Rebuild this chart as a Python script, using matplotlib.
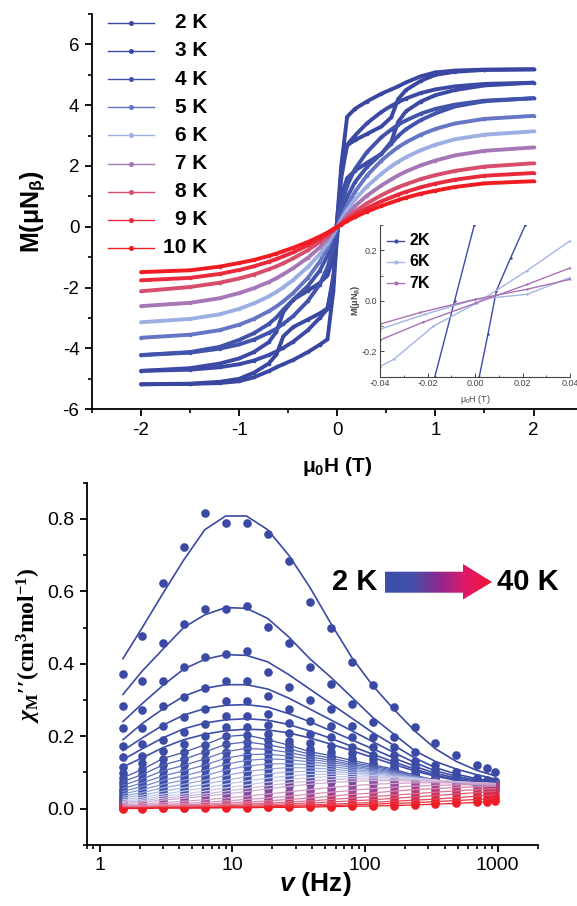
import numpy as np
import matplotlib
matplotlib.use('Agg')
import matplotlib.pyplot as plt
from matplotlib.colors import LinearSegmentedColormap
from matplotlib.patches import Polygon
from matplotlib.ticker import MultipleLocator, FixedLocator, FixedFormatter, LogLocator, NullFormatter

plt.rcParams['font.family'] = ['Liberation Sans', 'DejaVu Sans']
plt.rcParams['axes.unicode_minus'] = False
plt.rcParams['mathtext.fontset'] = 'custom'
plt.rcParams['mathtext.rm'] = 'Liberation Serif:bold'
plt.rcParams['mathtext.it'] = 'Liberation Serif:italic:bold'
plt.rcParams['mathtext.bf'] = 'Liberation Serif:bold'
plt.rcParams['mathtext.sf'] = 'Liberation Sans:italic:bold'

# ---------------- M vs H loops (top panel) ----------------
H_down = [2.0, 1.5, 1.2, 1.0, 0.85, 0.7, 0.62, 0.55, 0.45, 0.3, 0.18, 0.1, 0.04, 0.0,
          -0.04, -0.1, -0.18, -0.3, -0.45, -0.55, -0.62, -0.7, -0.85, -1.0, -1.2, -1.5, -2.0]
H_up = [-2.0, -1.5, -1.2, -1.0, -0.85, -0.7, -0.62, -0.55, -0.45, -0.3, -0.18, -0.1, -0.04, 0.0,
        0.04, 0.1, 0.18, 0.3, 0.45, 0.55, 0.62, 0.7, 0.85, 1.0, 1.2, 1.5, 2.0]

M_2K_down = [5.18, 5.17, 5.14, 5.08, 4.95, 4.75, 4.62, 4.52, 4.38, 4.12, 3.88, 3.62, 2.0, 0.3,
             -1.8, -2.68, -2.85, -3.05, -3.3, -3.6, -4.2, -4.5, -4.8, -5.0, -5.1, -5.16, -5.18]
M_2K_up = [-5.18, -5.17, -5.14, -5.08, -4.95, -4.75, -4.62, -4.52, -4.38, -4.12, -3.88, -3.7, -2.1, -0.15,
           1.8, 2.68, 2.85, 3.05, 3.3, 3.6, 4.2, 4.5, 4.8, 5.0, 5.1, 5.16, 5.18]
M_3K_down = [4.74, 4.7, 4.62, 4.52, 4.4, 4.22, 4.1, 3.98, 3.78, 3.4, 3.0, 2.7, 1.6, 0.3,
             -1.0, -1.6, -1.85, -2.1, -2.4, -2.8, -3.45, -3.8, -4.12, -4.33, -4.5, -4.65, -4.74]
M_3K_up = [-4.74, -4.7, -4.62, -4.52, -4.4, -4.22, -4.1, -3.98, -3.78, -3.4, -3.0, -2.7, -1.6, -0.3,
           1.0, 1.6, 1.85, 2.1, 2.4, 2.8, 3.45, 3.8, 4.12, 4.33, 4.5, 4.65, 4.74]
M_4K_down = [4.23, 4.15, 4.02, 3.88, 3.72, 3.5, 3.36, 3.2, 2.95, 2.45, 1.9, 1.35, 0.7, 0.15,
             -0.4, -0.95, -1.45, -1.95, -2.4, -2.72, -2.98, -3.2, -3.5, -3.72, -3.95, -4.12, -4.22]
M_4K_up = [-4.22, -4.14, -4.01, -3.87, -3.71, -3.49, -3.35, -3.19, -2.94, -2.44, -1.9, -1.33, -0.7, -0.12,
           0.42, 0.97, 1.47, 1.96, 2.41, 2.73, 2.99, 3.21, 3.51, 3.73, 3.96, 4.13, 4.23]
M_5K = [3.65, 3.55, 3.4, 3.22, 3.03, 2.78, 2.62, 2.45, 2.18, 1.68, 1.15, 0.7, 0.3, 0.0,
        -0.3, -0.7, -1.15, -1.68, -2.18, -2.45, -2.62, -2.78, -3.03, -3.22, -3.4, -3.55, -3.65]
M_6K = [3.14, 3.03, 2.88, 2.7, 2.52, 2.29, 2.14, 1.99, 1.75, 1.32, 0.9, 0.55, 0.22, 0.0,
        -0.22, -0.55, -0.9, -1.32, -1.75, -1.99, -2.14, -2.29, -2.52, -2.7, -2.88, -3.03, -3.14]
M_7K = [2.61, 2.5, 2.35, 2.18, 2.02, 1.82, 1.69, 1.56, 1.36, 1.02, 0.68, 0.4, 0.13, 0.0,
        -0.13, -0.4, -0.68, -1.02, -1.36, -1.56, -1.69, -1.82, -2.02, -2.18, -2.35, -2.5, -2.61]
M_8K = [2.09, 1.98, 1.84, 1.7, 1.57, 1.4, 1.3, 1.2, 1.04, 0.77, 0.5, 0.3, 0.11, 0.0,
        -0.11, -0.3, -0.5, -0.77, -1.04, -1.2, -1.3, -1.4, -1.57, -1.7, -1.84, -1.98, -2.12]
M_9K = [1.77, 1.68, 1.55, 1.42, 1.3, 1.15, 1.06, 0.97, 0.84, 0.61, 0.39, 0.23, 0.09, 0.0,
        -0.09, -0.23, -0.39, -0.61, -0.84, -0.97, -1.06, -1.15, -1.3, -1.42, -1.55, -1.68, -1.76]
M_10K = [1.5, 1.43, 1.31, 1.19, 1.09, 0.96, 0.88, 0.8, 0.69, 0.5, 0.32, 0.19, 0.07, 0.0,
         -0.07, -0.19, -0.32, -0.5, -0.69, -0.8, -0.88, -0.96, -1.09, -1.19, -1.31, -1.43, -1.49]

loop_labels = ['2 K', '3 K', '4 K', '5 K', '6 K', '7 K', '8 K', '9 K', '10 K']
loop_colors = ['#3a47a0', '#3c4aa5', '#4253ab', '#6676c4', '#9caee2', '#a677b6',
               '#d84c6c', '#e92a3c', '#f11c22']

# inset: zoom around zero field
ins_2K_a_H = [-0.0169, -0.0086, -0.0003]
ins_2K_a_M = [-0.30, 0.0, 0.30]
ins_2K_b_H = [0.0018, 0.0055, 0.009, 0.015, 0.0212]
ins_2K_b_M = [-0.30, -0.13, 0.04, 0.17, 0.30]
ins_6K_a_H = [-0.04, -0.034, -0.0175, 0.001, 0.0217, 0.04]
ins_6K_a_M = [-0.26, -0.23, -0.10, -0.007, 0.118, 0.237]
ins_6K_b_H = [-0.04, -0.021, 0.0, 0.022, 0.04]
ins_6K_b_M = [-0.112, -0.053, 0.005, 0.026, 0.092]
ins_7K_a_H = [-0.04, -0.022, 0.0, 0.022, 0.04]
ins_7K_a_M = [-0.155, -0.085, -0.01, 0.065, 0.13]
ins_7K_b_H = [-0.04, -0.023, 0.0, 0.022, 0.04]
ins_7K_b_M = [-0.092, -0.046, 0.006, 0.046, 0.085]
ins_labels = ['2K', '6K', '7K']
ins_colors = ['#3d4aa6', '#a3b4e6', '#a873b4']

# ---------------- chi'' vs frequency (bottom panel) ----------------
freq = [1.5, 2.1, 3.0, 4.3, 6.2, 8.9, 12.8, 18.5, 26.6, 38.3, 55.1, 79.2, 114, 164, 236, 339, 487, 700, 830, 960]

chi_2K = [0.371, 0.476, 0.623, 0.722, 0.815, 0.788, 0.788, 0.757, 0.684, 0.571, 0.500, 0.406, 0.341, 0.281, 0.226, 0.181, 0.148, 0.119, 0.111, 0.102]
fit_2K = [0.414, 0.500, 0.594, 0.686, 0.770, 0.808, 0.808, 0.770, 0.700, 0.612, 0.512, 0.418, 0.340, 0.275, 0.215, 0.165, 0.130, 0.105, 0.097, 0.090]
chi_3K = [0.282, 0.351, 0.457, 0.510, 0.551, 0.550, 0.560, 0.501, 0.456, 0.390, 0.345, 0.290, 0.240, 0.197, 0.155, 0.121, 0.100, 0.084, 0.080, 0.077]
fit_3K = [0.315, 0.380, 0.440, 0.500, 0.535, 0.555, 0.553, 0.525, 0.474, 0.414, 0.363, 0.308, 0.252, 0.206, 0.160, 0.130, 0.109, 0.093, 0.087, 0.081]
chi_4K = [0.222, 0.273, 0.351, 0.391, 0.418, 0.426, 0.435, 0.377, 0.337, 0.300, 0.274, 0.228, 0.197, 0.171, 0.132, 0.106, 0.091, 0.077, 0.074, 0.072]
fit_4K = [0.240, 0.290, 0.340, 0.385, 0.412, 0.425, 0.423, 0.405, 0.370, 0.330, 0.290, 0.250, 0.210, 0.175, 0.140, 0.113, 0.095, 0.082, 0.078, 0.075]
chi_5K = [0.174, 0.222, 0.282, 0.308, 0.332, 0.351, 0.351, 0.310, 0.274, 0.241, 0.228, 0.197, 0.171, 0.149, 0.119, 0.095, 0.084, 0.074, 0.071, 0.069]
fit_5K = [0.190, 0.235, 0.275, 0.310, 0.332, 0.342, 0.342, 0.330, 0.305, 0.275, 0.245, 0.215, 0.185, 0.155, 0.127, 0.104, 0.089, 0.078, 0.075, 0.072]
chi_6K = [0.141, 0.178, 0.228, 0.252, 0.275, 0.298, 0.298, 0.262, 0.237, 0.206, 0.197, 0.171, 0.149, 0.132, 0.109, 0.088, 0.078, 0.070, 0.068, 0.066]
fit_6K = [0.160, 0.195, 0.230, 0.258, 0.276, 0.285, 0.287, 0.280, 0.262, 0.240, 0.215, 0.190, 0.165, 0.140, 0.117, 0.097, 0.084, 0.075, 0.072, 0.070]
chi_7K = [0.114, 0.146, 0.190, 0.210, 0.234, 0.256, 0.256, 0.231, 0.208, 0.180, 0.174, 0.152, 0.136, 0.121, 0.100, 0.082, 0.074, 0.067, 0.065, 0.063]
fit_7K = [0.135, 0.165, 0.195, 0.220, 0.236, 0.245, 0.248, 0.244, 0.232, 0.214, 0.194, 0.172, 0.150, 0.129, 0.109, 0.092, 0.080, 0.072, 0.070, 0.068]
chi_8K = [0.098, 0.125, 0.160, 0.178, 0.201, 0.226, 0.226, 0.206, 0.186, 0.165, 0.155, 0.140, 0.126, 0.112, 0.093, 0.078, 0.071, 0.065, 0.063, 0.061]
fit_8K = [0.115, 0.140, 0.168, 0.190, 0.205, 0.215, 0.219, 0.217, 0.209, 0.195, 0.178, 0.160, 0.141, 0.122, 0.104, 0.089, 0.078, 0.071, 0.069, 0.067]
chi_9K = [0.085, 0.108, 0.138, 0.155, 0.176, 0.199, 0.203, 0.190, 0.175, 0.157, 0.146, 0.133, 0.121, 0.109, 0.092, 0.078, 0.071, 0.064, 0.062, 0.060]
chi_10K = [0.074, 0.094, 0.120, 0.136, 0.156, 0.177, 0.184, 0.176, 0.165, 0.150, 0.139, 0.127, 0.117, 0.106, 0.091, 0.078, 0.071, 0.064, 0.062, 0.060]
chi_11K = [0.064, 0.082, 0.104, 0.119, 0.137, 0.157, 0.166, 0.163, 0.155, 0.143, 0.133, 0.122, 0.113, 0.103, 0.090, 0.078, 0.071, 0.065, 0.063, 0.061]
chi_12K = [0.055, 0.071, 0.090, 0.104, 0.120, 0.139, 0.149, 0.150, 0.145, 0.136, 0.128, 0.118, 0.109, 0.100, 0.089, 0.078, 0.071, 0.065, 0.063, 0.062]
chi_13K = [0.047, 0.061, 0.078, 0.090, 0.105, 0.122, 0.133, 0.137, 0.135, 0.129, 0.122, 0.114, 0.106, 0.098, 0.088, 0.078, 0.072, 0.066, 0.064, 0.063]
chi_14K = [0.040, 0.052, 0.067, 0.078, 0.091, 0.106, 0.117, 0.123, 0.124, 0.121, 0.116, 0.109, 0.102, 0.095, 0.086, 0.078, 0.072, 0.067, 0.065, 0.064]
chi_15K = [0.034, 0.044, 0.057, 0.067, 0.078, 0.091, 0.102, 0.109, 0.113, 0.112, 0.109, 0.104, 0.099, 0.093, 0.085, 0.078, 0.073, 0.068, 0.066, 0.065]
chi_16K = [0.029, 0.037, 0.048, 0.057, 0.067, 0.078, 0.088, 0.096, 0.101, 0.103, 0.102, 0.099, 0.095, 0.090, 0.084, 0.078, 0.073, 0.069, 0.067, 0.066]
chi_17K = [0.024, 0.031, 0.040, 0.048, 0.057, 0.067, 0.076, 0.084, 0.090, 0.094, 0.095, 0.094, 0.091, 0.088, 0.083, 0.078, 0.074, 0.070, 0.068, 0.067]
chi_18K = [0.020, 0.026, 0.034, 0.040, 0.048, 0.057, 0.065, 0.073, 0.080, 0.085, 0.088, 0.088, 0.087, 0.085, 0.082, 0.078, 0.074, 0.071, 0.069, 0.068]
chi_19K = [0.017, 0.022, 0.028, 0.034, 0.040, 0.048, 0.055, 0.063, 0.070, 0.076, 0.080, 0.082, 0.082, 0.081, 0.079, 0.077, 0.074, 0.071, 0.070, 0.069]
chi_20K = [0.014, 0.018, 0.023, 0.028, 0.034, 0.040, 0.047, 0.054, 0.061, 0.067, 0.072, 0.075, 0.077, 0.077, 0.076, 0.075, 0.073, 0.071, 0.070, 0.069]
chi_22K = [0.010, 0.013, 0.016, 0.020, 0.024, 0.029, 0.034, 0.040, 0.046, 0.052, 0.058, 0.063, 0.067, 0.069, 0.071, 0.071, 0.071, 0.070, 0.069, 0.068]
chi_24K = [0.007, 0.009, 0.011, 0.014, 0.017, 0.021, 0.025, 0.029, 0.034, 0.040, 0.045, 0.050, 0.055, 0.059, 0.062, 0.064, 0.065, 0.066, 0.066, 0.066]
chi_26K = [0.005, 0.006, 0.008, 0.010, 0.012, 0.015, 0.018, 0.021, 0.025, 0.029, 0.034, 0.039, 0.043, 0.048, 0.052, 0.055, 0.058, 0.060, 0.061, 0.062]
chi_28K = [0.004, 0.005, 0.006, 0.007, 0.009, 0.011, 0.013, 0.015, 0.018, 0.021, 0.025, 0.029, 0.033, 0.037, 0.041, 0.045, 0.049, 0.052, 0.054, 0.055]
chi_30K = [0.003, 0.003, 0.004, 0.005, 0.006, 0.008, 0.009, 0.011, 0.013, 0.015, 0.018, 0.021, 0.024, 0.028, 0.032, 0.036, 0.040, 0.044, 0.046, 0.048]
chi_33K = [0.002, 0.002, 0.003, 0.003, 0.004, 0.005, 0.006, 0.007, 0.009, 0.010, 0.012, 0.014, 0.017, 0.020, 0.023, 0.026, 0.030, 0.034, 0.036, 0.038]
chi_36K = [0.001, 0.001, 0.002, 0.002, 0.003, 0.003, 0.004, 0.005, 0.006, 0.007, 0.008, 0.010, 0.012, 0.014, 0.016, 0.019, 0.022, 0.025, 0.027, 0.029]
chi_40K = [0.000, 0.000, 0.001, 0.001, 0.001, 0.002, 0.002, 0.003, 0.003, 0.004, 0.005, 0.006, 0.007, 0.008, 0.010, 0.012, 0.014, 0.017, 0.019, 0.021]

ac_dots = [chi_2K, chi_3K, chi_4K, chi_5K, chi_6K, chi_7K, chi_8K, chi_9K, chi_10K, chi_11K,
           chi_12K, chi_13K, chi_14K, chi_15K, chi_16K, chi_17K, chi_18K, chi_19K, chi_20K,
           chi_22K, chi_24K, chi_26K, chi_28K, chi_30K, chi_33K, chi_36K, chi_40K]
ac_fits = [fit_2K, fit_3K, fit_4K, fit_5K, fit_6K, fit_7K, fit_8K] + ac_dots[7:]

# ---------------- figure ----------------
W, Hpx = 577, 906
fig = plt.figure(figsize=(W / 100, Hpx / 100), dpi=100)


def box(l, t, r, b):
    return [l / W, 1 - b / Hpx, (r - l) / W, (b - t) / Hpx]


def style(ax):
    for s in ['top', 'right']:
        ax.spines[s].set_visible(False)
    for s in ['left', 'bottom']:
        ax.spines[s].set_linewidth(1.3)
    ax.tick_params(which='major', direction='out', length=5, width=1.3, labelsize=13.5, pad=4)
    ax.tick_params(which='minor', direction='out', length=3, width=1.2)


# top panel
ax1 = fig.add_axes(box(92, 14, 582.6, 409.2))
style(ax1)
ax1.set_xlim(-2.5, 2.5)
ax1.set_ylim(-6, 7)
ax1.xaxis.set_major_locator(FixedLocator([-2, -1, 0, 1, 2]))
ax1.xaxis.set_minor_locator(MultipleLocator(0.5))
ax1.yaxis.set_major_locator(FixedLocator([-6, -4, -2, 0, 2, 4, 6]))
ax1.yaxis.set_minor_locator(MultipleLocator(1))

loops = [(M_2K_down, M_2K_up), (M_3K_down, M_3K_up), (M_4K_down, M_4K_up),
         (M_5K, None), (M_6K, None), (M_7K, None), (M_8K, None), (M_9K, None), (M_10K, None)]
for (down, up), c in zip(loops, loop_colors):
    ax1.plot(H_down, down, color=c, lw=2.8, marker='o', ms=2.6, mew=0,
             solid_joinstyle='round', solid_capstyle='round')
    if up is not None:
        ax1.plot(H_up, up, color=c, lw=2.8, marker='o', ms=2.6, mew=0,
                 solid_joinstyle='round', solid_capstyle='round')

# hand-placed legend (right aligned labels)
for i, (lab, c) in enumerate(zip(loop_labels, loop_colors)):
    y = 0.9777 - i * 0.0712
    ax1.plot([0.0326, 0.1264], [y, y], color=c, lw=1.0, transform=ax1.transAxes, clip_on=False)
    ax1.plot([0.0795], [y], 'o', color=c, ms=2.6, transform=ax1.transAxes, clip_on=False)
    ax1.text(0.2344, y, lab, transform=ax1.transAxes, ha='right', va='center',
             fontsize=15, fontweight='bold')

ax1.set_xlabel('μ$_\\mathregular{0}$H (T)', fontsize=15, fontweight='bold')
ax1.xaxis.label.set_va('center')
ax1.xaxis.set_label_coords(0.5, -0.146)
ax1.set_ylabel('M(μN$_\\mathregular{β}$)', fontsize=18, fontweight='bold')
ax1.yaxis.label.set_va('center')
ax1.yaxis.set_label_coords(-0.12, 0.5)

# inset
axi = fig.add_axes(box(380, 225, 570, 376.7))
for s in ['top', 'right']:
    axi.spines[s].set_visible(False)
for s in ['left', 'bottom']:
    axi.spines[s].set_linewidth(0.8)
    axi.spines[s].set_color('#444444')
axi.set_facecolor('none')
axi.set_xlim(-0.04, 0.04)
axi.set_ylim(-0.3, 0.3)
axi.xaxis.set_major_locator(FixedLocator([-0.04, -0.02, 0.0, 0.02, 0.04]))
axi.xaxis.set_major_formatter(FixedFormatter(['-0.04', '-0.02', '0.00', '0.02', '0.04']))
axi.xaxis.set_minor_locator(MultipleLocator(0.01))
axi.yaxis.set_major_locator(FixedLocator([-0.2, 0.0, 0.2]))
axi.yaxis.set_major_formatter(FixedFormatter(['-0.2', '0.0', '0.2']))
axi.yaxis.set_minor_locator(MultipleLocator(0.1))
axi.tick_params(which='major', direction='in', length=3, width=0.7, labelsize=6.5,
                colors='#444444', pad=2)
axi.tick_params(which='minor', direction='in', length=1.8, width=0.6, colors='#444444')

ins_series = [(ins_2K_a_H, ins_2K_a_M, 0), (ins_2K_b_H, ins_2K_b_M, 0),
              (ins_6K_a_H, ins_6K_a_M, 1), (ins_6K_b_H, ins_6K_b_M, 1),
              (ins_7K_a_H, ins_7K_a_M, 2), (ins_7K_b_H, ins_7K_b_M, 2)]
for hx, my, k in ins_series:
    axi.plot(hx, my, color=ins_colors[k], lw=1.0, marker='o', ms=1.8, mew=0)

for i, (lab, c) in enumerate(zip(ins_labels, ins_colors)):
    y = 0.8965 - i * 0.140
    axi.plot([0.036, 0.128], [y, y], color=c, lw=1.0, transform=axi.transAxes, clip_on=False)
    axi.plot([0.082], [y], 'o', color=c, ms=2.0, transform=axi.transAxes, clip_on=False)
    axi.text(0.153, y, lab, transform=axi.transAxes, ha='left', va='center',
             fontsize=11.5, fontweight='bold')

axi.set_xlabel('μ$_\\mathregular{0}$H (T)', fontsize=6.5, color='#444444')
axi.xaxis.label.set_va('center')
axi.xaxis.set_label_coords(0.5, -0.15)
axi.set_ylabel('M(μN$_\\mathregular{β}$)', fontsize=6.5, color='#444444', fontweight='bold')
axi.yaxis.label.set_va('center')
axi.yaxis.set_label_coords(-0.13, 0.5)

# bottom panel
ax2 = fig.add_axes(box(86.7, 482.7, 537.7, 844.7))
style(ax2)
ax2.set_xscale('log')
ax2.set_xlim(0.8, 2000)
ax2.set_ylim(-0.1, 0.9)
ax2.xaxis.set_major_locator(FixedLocator([1, 10, 100, 1000]))
ax2.xaxis.set_major_formatter(FixedFormatter(['1', '10', '100', '1000']))
ax2.xaxis.set_minor_locator(LogLocator(base=10, subs=np.arange(2, 10) * 1.0, numticks=20))
ax2.xaxis.set_minor_formatter(NullFormatter())
ax2.yaxis.set_major_locator(FixedLocator([0.0, 0.2, 0.4, 0.6, 0.8]))
ax2.yaxis.set_major_formatter(FixedFormatter(['0.0', '0.2', '0.4', '0.6', '0.8']))
ax2.yaxis.set_minor_locator(MultipleLocator(0.1))
ax2.tick_params(which='major', labelsize=14)

n_ac = len(ac_dots)
dot_cmap = LinearSegmentedColormap.from_list(
    'dots', [(0, '#3a49a3'), (0.6, '#4151a9'), (0.78, '#9a4a9c'), (1, '#ee1c25')])
line_cmap = LinearSegmentedColormap.from_list(
    'lines', [(0, '#3a49a3'), (0.25, '#3f4fa8'), (0.45, '#8393d2'), (0.6, '#c9d2ef'),
              (0.78, '#d890b8'), (1, '#ee1c25')])

for i, d in enumerate(ac_dots):
    ax2.plot(freq, d, 'o', color=dot_cmap(i / (n_ac - 1)), ms=6.2, mew=0, clip_on=False)
for i, f in enumerate(ac_fits):
    ax2.plot(freq, f, '-', color=line_cmap(i / (n_ac - 1)), lw=1.2 if i < 7 else 0.9)

ax2.set_xlabel('$\\mathsf{v}$ (Hz)', fontsize=19, fontweight='bold')
ax2.xaxis.label.set_va('center')
ax2.xaxis.set_label_coords(0.506, -0.1086)
ax2.set_ylabel("$\\chi_\\mathrm{M}$′′(cm$^\\mathrm{3}$mol$^\\mathrm{-1}$)", fontsize=17,
               fontweight='bold', family=['Liberation Serif', 'DejaVu Serif'])
ax2.yaxis.label.set_va('center')
ax2.yaxis.set_label_coords(-0.129, 0.552)

# overlay for the gradient arrow annotation (pixel coordinates)
axo = fig.add_axes([0, 0, 1, 1], zorder=10)
axo.patch.set_alpha(0)
axo.axis('off')
arrow_pts = [(385, 571.7), (463, 571.7), (463, 564), (492, 582), (463, 599.5), (463, 592.7), (385, 592.7)]
arrow = Polygon(arrow_pts, closed=True, facecolor='none', edgecolor='none')
axo.add_patch(arrow)
arrow_cmap = LinearSegmentedColormap.from_list(
    'arrow', ['#3a4faa', '#4450a8', '#8a2a8f', '#e0186a', '#ee1530'])
grad = np.linspace(0, 1, 256).reshape(1, -1)
im = axo.imshow(grad, cmap=arrow_cmap, extent=[385, 492, 600, 563], aspect='auto')
im.set_clip_path(arrow)
axo.set_xlim(0, W)
axo.set_ylim(Hpx, 0)
axo.text(355, 582.5, '2 K', ha='center', va='center', fontsize=21, fontweight='bold')
axo.text(528, 582.5, '40 K', ha='center', va='center', fontsize=21, fontweight='bold')

fig.savefig('out.png', dpi=100)
